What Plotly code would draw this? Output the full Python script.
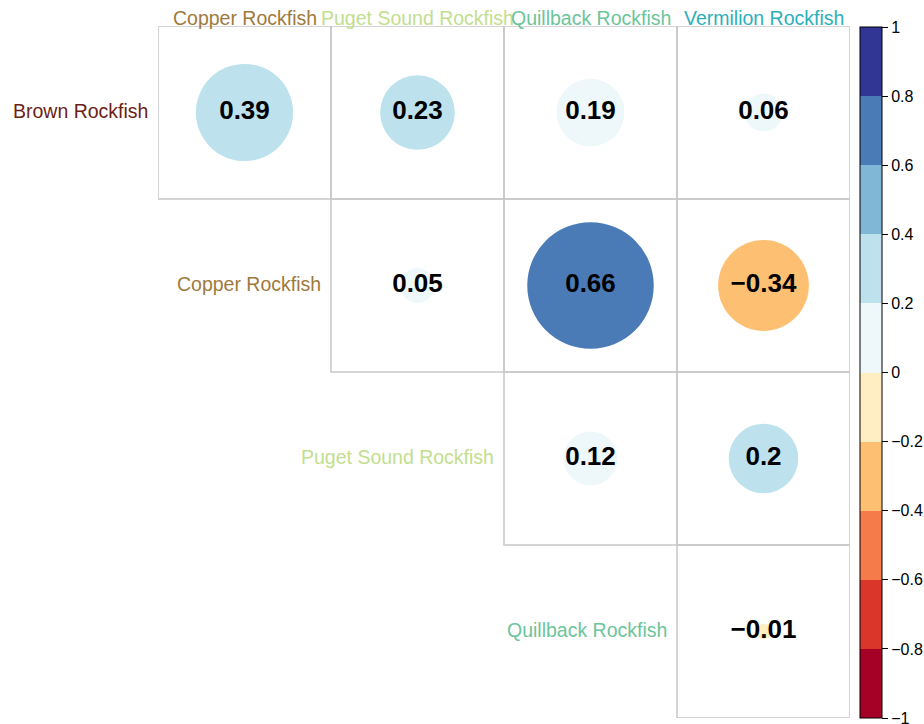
import numpy as np
import plotly.graph_objects as go

row_labels = ["Brown Rockfish", "Copper Rockfish", "Puget Sound Rockfish", "Quillback Rockfish"]
col_labels = ["Copper Rockfish", "Puget Sound Rockfish", "Quillback Rockfish", "Vermilion Rockfish"]
row_colors = ["#6B1E14", "#A07A3C", "#C2DE8E", "#6CC59A"]
col_colors = ["#A07A3C", "#C2DE8E", "#6CC59A", "#2DB0BA"]

# upper-triangle correlations (row i, column j, j >= i)
brown_vals = [0.39, 0.23, 0.19, 0.06]
copper_vals = [None, 0.05, 0.66, -0.34]
puget_vals = [None, None, 0.12, 0.20]
quill_vals = [None, None, None, -0.01]
matrix = [brown_vals, copper_vals, puget_vals, quill_vals]

bin_colors = ["#A50026", "#DA372A", "#F67B4A", "#FDBF71", "#FEEEC1",
              "#EEF8FB", "#BDE2EE", "#80B7D6", "#4A7BB7", "#313695"]
tick_vals = [-1, -0.8, -0.6, -0.4, -0.2, 0, 0.2, 0.4, 0.6, 0.8, 1]
tick_text = ["\u22121", "\u22120.8", "\u22120.6", "\u22120.4", "\u22120.2", "0",
             "0.2", "0.4", "0.6", "0.8", "1"]

def fmt(v):
    s = f"{abs(v):g}"
    return ("\u2212" + s) if v < 0 else s

def bin_color(v):
    idx = int(np.floor((v + 1) / 0.2 + 1e-9))
    return bin_colors[max(0, min(9, idx))]

colorscale = []
for k, c in enumerate(bin_colors):
    colorscale.append([k / 10, c])
    colorscale.append([(k + 1) / 10, c])

xs, ys, vals, texts = [], [], [], []
shapes = []
for i, row in enumerate(matrix):
    for j, v in enumerate(row):
        if v is None:
            continue
        xs.append(j); ys.append(i); vals.append(v); texts.append(fmt(v))
        shapes.append(dict(type="rect", xref="x", yref="y",
                           x0=j - 0.5, x1=j + 0.5, y0=i - 0.5, y1=i + 0.5,
                           line=dict(color="#C8C8C8", width=1.5), layer="below"))
        r = 0.45 * np.sqrt(abs(v))
        shapes.append(dict(type="circle", xref="x", yref="y",
                           x0=j - r, x1=j + r, y0=i - r, y1=i + r,
                           fillcolor=bin_color(v), line=dict(width=0), layer="below"))

W, H = 924, 724
PL, PR, PT, PB = 158, 74, 26, 6
PW, PH = W - PL - PR, H - PT - PB

fig = go.Figure()
fig.add_trace(go.Scatter(
    x=xs, y=ys, mode="markers+text", text=texts,
    textfont=dict(family="Liberation Sans, Arial", size=26, color="black", weight="bold"),
    textposition="middle center",
    marker=dict(size=1, opacity=0, color=vals, cmin=-1, cmax=1, colorscale=colorscale,
                showscale=True,
                colorbar=dict(
                    xref="paper", yref="paper",
                    x=(860 - PL) / PW, xanchor="left", xpad=0,
                    y=(H - PB - 27) / PH, yanchor="top", ypad=0,
                    lenmode="pixels", len=691, thickness=22,
                    outlinewidth=1, outlinecolor="black",
                    tickmode="array", tickvals=tick_vals, ticktext=tick_text,
                    ticks="outside", ticklen=6, tickcolor="black",
                    ticklabeloverflow="allow",
                    tickfont=dict(family="Liberation Sans, Arial", size=16, color="black"),
                )),
    hoverinfo="skip", showlegend=False,
))

annotations = []
for j, lab in enumerate(col_labels):
    annotations.append(dict(x=j, y=-0.5, xref="x", yref="y", text=lab, showarrow=False,
                            xanchor="center", yanchor="middle", yshift=8,
                            font=dict(family="Liberation Sans, Arial", size=19.5, color=col_colors[j])))
for i, lab in enumerate(row_labels):
    annotations.append(dict(x=i - 0.5, y=i, xref="x", yref="y", text=lab, showarrow=False,
                            xanchor="right", yanchor="middle", xshift=-8, yshift=2,
                            font=dict(family="Liberation Sans, Arial", size=19.5, color=row_colors[i])))

fig.update_layout(
    width=W, height=H,
    margin=dict(l=PL, r=PR, t=PT, b=PB, autoexpand=False),
    paper_bgcolor="white", plot_bgcolor="white",
    xaxis=dict(range=[-0.5, 3.5], visible=False, fixedrange=True),
    yaxis=dict(range=[3.5, -0.5], visible=False, fixedrange=True),
    shapes=shapes, annotations=annotations,
)

fig.write_html("out.html", config={"displayModeBar": False},
               post_script="document.body.style.margin='0';document.body.style.overflow='hidden';")
